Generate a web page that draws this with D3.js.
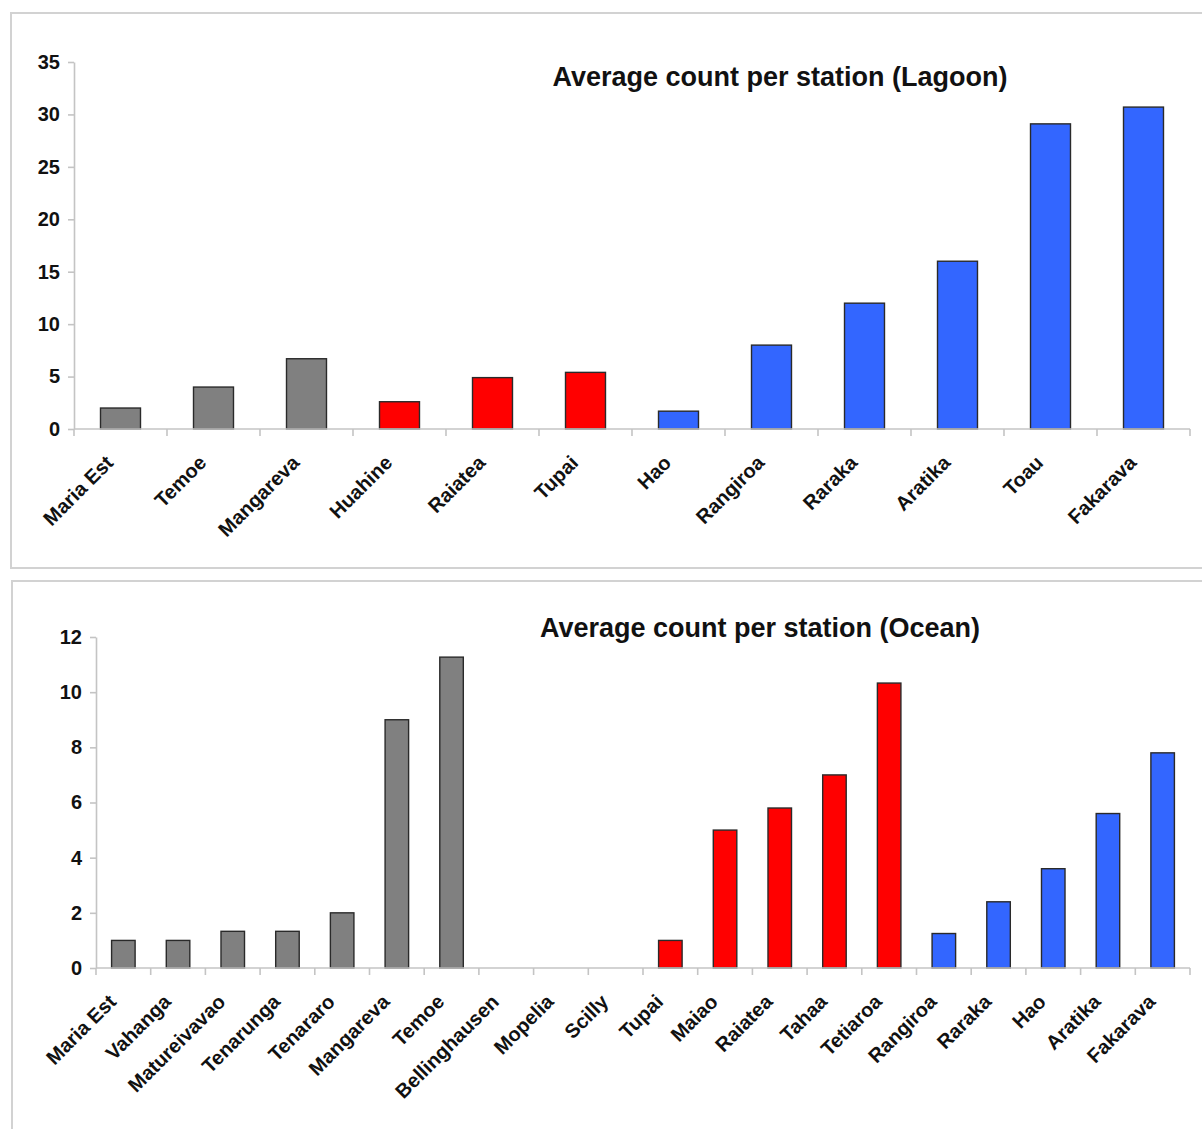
<!DOCTYPE html>
<html>
<head>
<meta charset="utf-8">
<script src="https://cdn.jsdelivr.net/npm/d3@7"></script>
<style>
  html, body { margin: 0; padding: 0; background: #fff; }
  svg { display: block; font-family: "Liberation Sans", Arial, sans-serif; }
  .axis path, .axis line { stroke: #c4c4c4; stroke-width: 1.6; }
  .axis text { font-weight: bold; fill: #111; }
  .axis .tick text { font-size: 20px; }
  .axis text.lbl { font-size: 20px; }
</style>
</head>
<body>
<svg id="chart" width="1202" height="1129"></svg>
<script>
// Lagoon stations
const lagoonStations = ["Maria Est", "Temoe", "Mangareva", "Huahine", "Raiatea", "Tupai",
  "Hao", "Rangiroa", "Raraka", "Aratika", "Toau", "Fakarava"];
const lagoonCounts = [2.0, 4.0, 6.7, 2.6, 4.9, 5.4, 1.7, 8.0, 12.0, 16.0, 29.1, 30.7];
const lagoonGroups = ["grey", "grey", "grey", "red", "red", "red",
  "blue", "blue", "blue", "blue", "blue", "blue"];
const lagoonTicks = [0, 5, 10, 15, 20, 25, 30, 35];

// Ocean stations
const oceanStations = ["Maria Est", "Vahanga", "Matureivavao", "Tenarunga", "Tenararo",
  "Mangareva", "Temoe", "Bellinghausen", "Mopelia", "Scilly", "Tupai", "Maiao", "Raiatea",
  "Tahaa", "Tetiaroa", "Rangiroa", "Raraka", "Hao", "Aratika", "Fakarava"];
const oceanCounts = [1.0, 1.0, 1.33, 1.33, 2.0, 9.0, 11.27, 0, 0, 0, 1.0, 5.0, 5.8,
  7.0, 10.33, 1.25, 2.4, 3.6, 5.6, 7.8];
const oceanGroups = ["grey", "grey", "grey", "grey", "grey", "grey", "grey",
  "red", "red", "red", "red", "red", "red", "red", "red",
  "blue", "blue", "blue", "blue", "blue"];
const oceanTicks = [0, 2, 4, 6, 8, 10, 12];

const groupColor = { grey: "#808080", red: "#ff0000", blue: "#3366ff" };

const svg = d3.select("#chart");

function drawPanel(opts) {
  const g = svg.append("g");

  // frame around the panel
  g.append("rect")
    .attr("x", opts.frame[0]).attr("y", opts.frame[1])
    .attr("width", opts.frame[2]).attr("height", opts.frame[3])
    .attr("fill", "none").attr("stroke", "#d2d2d2").attr("stroke-width", 2);

  const x = d3.scaleBand()
    .domain(opts.stations)
    .range([opts.left, opts.right])
    .padding(0);
  const y = d3.scaleLinear()
    .domain([0, opts.max])
    .range([opts.bottom, opts.top]);

  const barFrac = 0.43;
  const bw = x.bandwidth() * barFrac;

  // bars
  g.append("g").selectAll("rect")
    .data(opts.stations.map((s, i) => ({ s, v: opts.counts[i], grp: opts.groups[i] })))
    .join("rect")
    .attr("x", d => x(d.s) + (x.bandwidth() - bw) / 2)
    .attr("y", d => y(d.v))
    .attr("width", bw)
    .attr("height", d => y(0) - y(d.v))
    .attr("fill", d => groupColor[d.grp])
    .attr("stroke", d => d.v > 0 ? "#2a2a2a" : "none")
    .attr("stroke-width", 1.4);

  // y axis
  g.append("g")
    .attr("class", "axis")
    .attr("transform", `translate(${opts.left},0)`)
    .call(d3.axisLeft(y).tickValues(opts.ticks).tickSize(6).tickSizeOuter(0).tickPadding(8));

  // x axis: baseline with ticks at category boundaries
  const bounds = opts.stations.map(s => x(s)).concat([opts.right]);
  const xa = g.append("g").attr("class", "axis");
  xa.append("line")
    .attr("x1", opts.left).attr("x2", opts.right)
    .attr("y1", y(0)).attr("y2", y(0));
  xa.selectAll("line.tick")
    .data(bounds)
    .join("line")
    .attr("class", "tick")
    .attr("x1", d => d).attr("x2", d => d)
    .attr("y1", y(0)).attr("y2", y(0) + 7);

  // rotated station labels
  xa.selectAll("text.lbl")
    .data(opts.stations)
    .join("text")
    .attr("class", "lbl")
    .attr("text-anchor", "end")
    .attr("transform", d => `translate(${x(d) + x.bandwidth() / 2 - 6},${y(0) + 35}) rotate(-45)`)
    .text(d => d);

  // title
  g.append("text")
    .attr("x", opts.titleX).attr("y", opts.titleY)
    .attr("text-anchor", "middle")
    .attr("font-size", 27).attr("font-weight", "bold").attr("fill", "#111")
    .text(opts.title);
}

drawPanel({
  frame: [11, 13, 1200, 555],
  stations: lagoonStations, counts: lagoonCounts, groups: lagoonGroups,
  ticks: lagoonTicks, max: 35,
  left: 74, right: 1190, top: 62, bottom: 429,
  title: "Average count per station (Lagoon)", titleX: 780, titleY: 86
});

drawPanel({
  frame: [12, 581, 1200, 600],
  stations: oceanStations, counts: oceanCounts, groups: oceanGroups,
  ticks: oceanTicks, max: 12,
  left: 96, right: 1190, top: 637, bottom: 968,
  title: "Average count per station (Ocean)", titleX: 760, titleY: 637
});
</script>
</body>
</html>
